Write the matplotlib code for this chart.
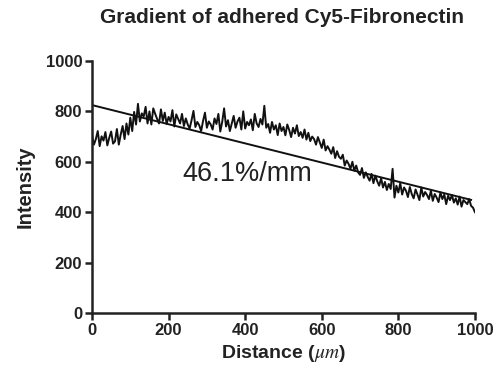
import matplotlib
matplotlib.use("Agg")
import matplotlib.pyplot as plt
import numpy as np

plt.rcParams['font.family'] = ['Liberation Sans', 'DejaVu Sans']
plt.rcParams['mathtext.fontset'] = 'stix'

# intensity profile, one value every 5 um from 0 to 1000
distance = np.arange(0, 1001, 5)
intensity = [
    705, 668, 690, 722, 662, 701, 684, 718, 665, 695,
    720, 672, 681, 730, 668, 708, 742, 690, 752, 708,
    775, 722, 798, 748, 830, 760, 792, 780, 818, 752,
    800, 748, 812, 790, 770, 752, 808, 762, 795, 750,
    778, 760, 805, 740, 788, 770, 752, 790, 742, 772,
    748, 732, 765, 802, 738, 758, 745, 722, 762, 795,
    735, 760, 748, 728, 772, 750, 790, 720, 758, 812,
    740, 765, 722, 752, 782, 735, 760, 775, 728, 800,
    732, 758, 745, 768, 725, 790, 752, 738, 770, 748,
    822, 735, 750, 715, 758, 728, 745, 706, 752, 722,
    738, 705, 748, 726, 698, 735, 712, 745, 702, 718,
    695, 728, 688, 715, 682, 700, 690, 668, 698, 676,
    655, 688, 645, 662, 648, 632, 658, 615, 642, 620,
    612, 628, 585, 605, 592, 572, 600, 565, 585, 558,
    548, 575, 536, 558, 540, 525, 552, 515, 545, 522,
    505, 535, 498, 520, 488, 512, 492, 572, 458, 505,
    478, 515, 470, 498, 485, 460, 500, 472, 455, 490,
    470, 448, 498, 462, 480, 468, 452, 485, 445, 472,
    458, 440, 478, 452, 470, 432, 465, 448, 468, 438,
    455, 430, 462, 422, 448, 440, 432, 452, 425, 418,
    400,
]

# linear fit shown on the chart
fit_intercept = 825
fit_slope = -0.380
fit_x = [0, 990]
slope_label = '46.1%/mm'

fig = plt.figure(figsize=(4.96, 3.83), dpi=100)
ax = fig.add_axes([0.1855, 0.1828, 0.772, 0.658])

ax.plot(distance, intensity, color='#111111', lw=1.4)
ax.plot(fit_x, [fit_intercept + fit_slope * x for x in fit_x], color='#111111', lw=1.4)
ax.text(235, 524, slope_label, fontsize=19.5, color='#222222', ha='left', va='baseline')

ax.set_xlim(0, 1000)
ax.set_ylim(0, 1000)
ax.set_xticks(range(0, 1001, 200))
ax.set_yticks(range(0, 1001, 200))
for side in ['top', 'right']:
    ax.spines[side].set_visible(False)
for side in ['left', 'bottom']:
    ax.spines[side].set_linewidth(1.8)
    ax.spines[side].set_color('#222222')
ax.tick_params(width=1.8, length=5, color='#222222', labelcolor='#222222', labelsize=12, pad=2)
for lab in ax.get_xticklabels() + ax.get_yticklabels():
    lab.set_fontweight('bold')

ax.set_xlabel(r'Distance ($\mu m$)', fontsize=14, fontweight='bold', color='#222222', labelpad=4)
ax.set_ylabel('Intensity', fontsize=14.5, fontweight='bold', color='#222222', labelpad=8)
fig.text(0.569, 0.955, 'Gradient of adhered Cy5-Fibronectin', fontsize=15, fontweight='bold',
         color='#222222', ha='center', va='center')

fig.savefig('out.png', dpi=100)
